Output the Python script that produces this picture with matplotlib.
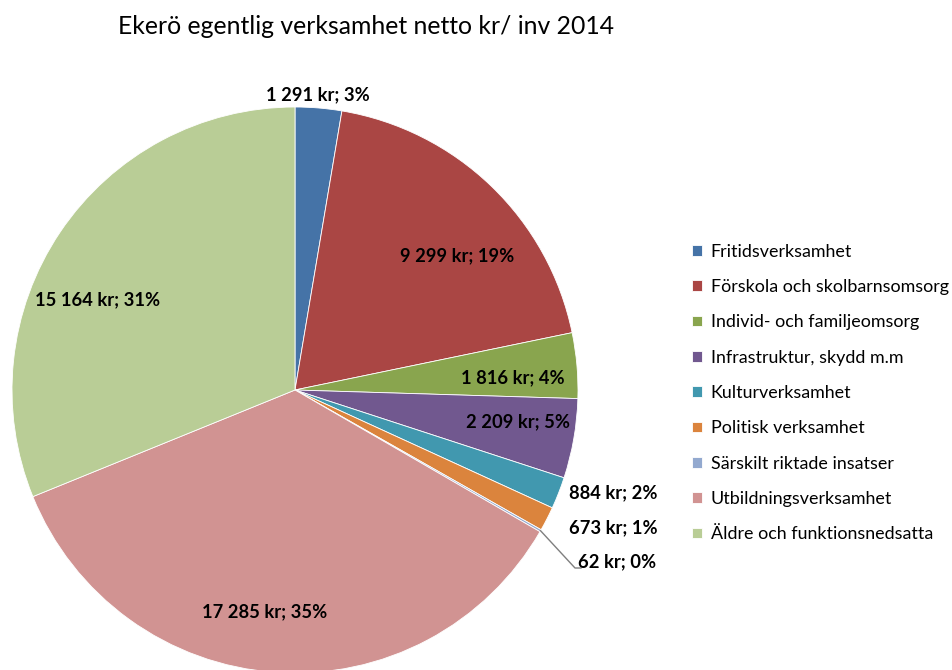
import matplotlib
matplotlib.use("Agg")
import matplotlib.pyplot as plt
import numpy as np

plt.rcParams["font.family"] = ["Lato", "DejaVu Sans"]

categories = [
    "Fritidsverksamhet",
    "Förskola och skolbarnsomsorg",
    "Individ- och familjeomsorg",
    "Infrastruktur, skydd m.m",
    "Kulturverksamhet",
    "Politisk verksamhet",
    "Särskilt riktade insatser",
    "Utbildningsverksamhet",
    "Äldre och funktionsnedsatta",
]
values = [1291, 9299, 1816, 2209, 884, 673, 62, 17285, 15164]
value_labels = ["1 291 kr; 3%", "9 299 kr; 19%", "1 816 kr; 4%", "2 209 kr; 5%",
                "884 kr; 2%", "673 kr; 1%", "62 kr; 0%", "17 285 kr; 35%",
                "15 164 kr; 31%"]
colors = ["#4573A7", "#AA4644", "#89A54E", "#71588F", "#4198AF",
          "#DB843D", "#93A9CF", "#D19392", "#B9CD96"]

W, H = 952, 670
# label anchor points in figure pixels (from top-left)
label_px = [(318, 95), (457, 256), (513, 378), (518, 422), (613, 493),
            (613, 528), (617, 562), (265, 612), (98, 300)]

fig = plt.figure(figsize=(W / 100, H / 100), dpi=100)
ax = fig.add_axes([0, 0, 1, 1])

cx, cy, r = 295, H - 390, 283
wedges, _ = ax.pie(values, colors=colors, startangle=90, counterclock=False,
                   center=(cx, cy), radius=r, frame=True,
                   wedgeprops=dict(edgecolor="white", linewidth=0.6))
ax.set_xlim(0, W)
ax.set_ylim(0, H)
ax.set_aspect("equal")
ax.axis("off")

for (x, y), txt in zip(label_px, value_labels):
    ax.text(x, H - y, txt, ha="center", va="center", fontsize=13.2,
            fontweight="bold", color="black")

# leader line for the tiny slice
w = wedges[6]
mid = np.deg2rad((w.theta1 + w.theta2) / 2)
ex, ey = cx + r * np.cos(mid), cy + r * np.sin(mid)
ax.plot([ex, 575, 581], [ey, H - 568, H - 568], color="#7F7F7F", lw=1)

ax.text(366, H - 27, "Ekerö egentlig verksamhet netto kr/ inv 2014",
        ha="center", va="center", fontsize=17.8, color="black")

ax.legend(wedges, categories, loc="center left", bbox_to_anchor=(692 / W, 1 - 393 / H),
          frameon=False, fontsize=12.9, handlelength=0.55, handleheight=0.55,
          handletextpad=0.5, labelspacing=1.08, borderpad=0, borderaxespad=0)

fig.savefig("out.png", dpi=100)
